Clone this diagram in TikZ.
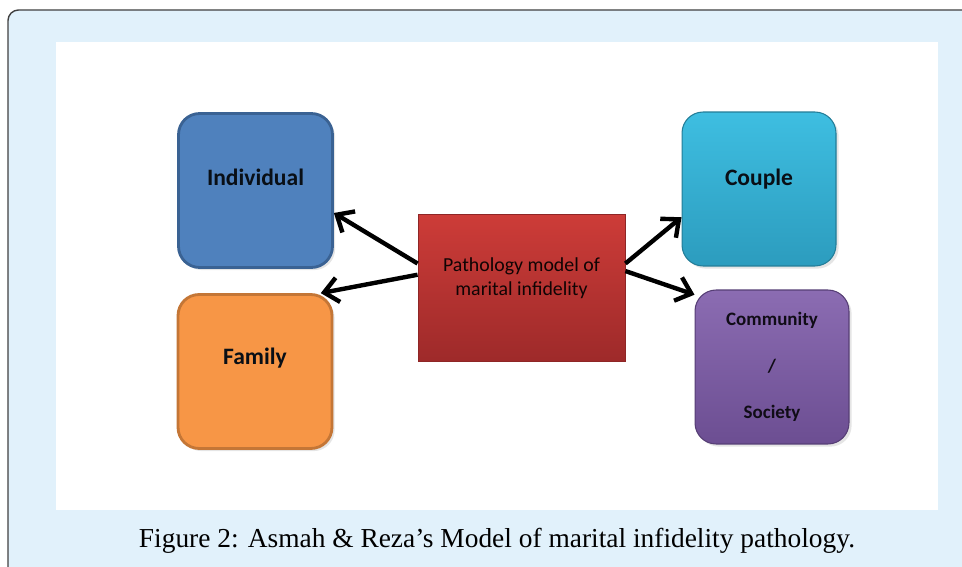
\documentclass[tikz,border=0pt]{standalone}
\usepackage{fontspec}
\setsansfont{Carlito}
\newfontfamily\capfont{Liberation Serif}
\usepackage{tikz}
\usetikzlibrary{shapes,arrows.meta,positioning,calc,shadows}
\usepackage{xcolor}
\definecolor{framebg}{RGB}{225,241,251}
\definecolor{indivblue}{RGB}{79,129,189}
\definecolor{indivedge}{RGB}{58,98,147}
\definecolor{familyorange}{RGB}{247,150,70}
\definecolor{familyedge}{RGB}{196,118,54}
\definecolor{coupletop}{RGB}{62,190,225}
\definecolor{couplebot}{RGB}{44,156,190}
\definecolor{socitop}{RGB}{139,108,178}
\definecolor{socibot}{RGB}{108,78,146}
\definecolor{pathotop}{RGB}{205,60,56}
\definecolor{pathobot}{RGB}{158,42,42}
\tikzset{
    area/.style={rectangle, rounded corners=12pt, minimum width=3.08cm, minimum height=3.08cm, inner sep=0pt, drop shadow={opacity=0.2, shadow xshift=1.5pt, shadow yshift=-1.5pt}},
    areaB/.style={area, draw=indivedge, fill=indivblue, line width=1.6pt},
    areaO/.style={area, draw=familyedge, fill=familyorange, line width=1.6pt},
    areaC/.style={area, top color=coupletop, bottom color=couplebot, draw=couplebot!80!black, line width=0.6pt},
    areaP/.style={area, top color=socitop, bottom color=socibot, draw=socibot!80!black, line width=0.6pt, font=\sffamily\bfseries\fontsize{10.8}{12}\selectfont, text=black!85!socibot, align=center},
    model/.style={rectangle, minimum width=4.14cm, minimum height=2.94cm, top color=pathotop, bottom color=pathobot, draw=pathobot!90!black, line width=0.5pt, align=center, font=\sffamily\fontsize{11.3}{13.6}\selectfont, text=black!90!pathobot},
    arealabel/.style={font=\sffamily\bfseries\fontsize{13.4}{15}\selectfont, text=black!85!indivedge},
    link/.style={line width=2.5pt, black, -{Straight Barb[length=8pt, width=14pt, line width=2.5pt]}},
}

\begin{document}
\begin{tikzpicture}[x=0.02cm, y=-0.02cm]
    \useasboundingbox (0,0) rectangle (962,567);
    \clip (0,0) rectangle (962,567);
    % frame and white panel
    \draw[fill=framebg, draw=black!75, line width=0.8pt, rounded corners=6pt] (8,10) rectangle (985,590);
    \fill[white] (56,42) rectangle (938,510);

    % the five boxes
    \node[areaB, label={[arealabel, yshift=7.5pt]center:Individual}] (indiv) at (255.5,190.5) {};
    \node[areaO, label={[arealabel, yshift=7.5pt]center:Family}] (family) at (255,371.5) {};
    \node[areaC, label={[arealabel, yshift=5.8pt]center:Couple}] (couple) at (759,189) {};
    \node[areaP] (society) at (772,367) {Community\\[14.5pt]/\\[14.5pt]Society};
    \node[model] (patho) at (521.5,287.5) {\raisebox{12.5pt}{\shortstack{Pathology model of\\[1pt]marital infidelity}}};

    % arrows
    \draw[link] (patho.167.5) -- (indiv.-16.5);
    \draw[link] (patho.173) -- (family.50);
    \draw[link] (patho.13.8) -- (couple.200);
    \draw[link] (patho.9.6) -- (society.137);

    \node[font=\capfont\fontsize{15.6}{18}\selectfont] (caption) at (497,541) {Figure 2: Asmah \& Reza’s Model of marital infidelity pathology.};
\end{tikzpicture}
\end{document}
